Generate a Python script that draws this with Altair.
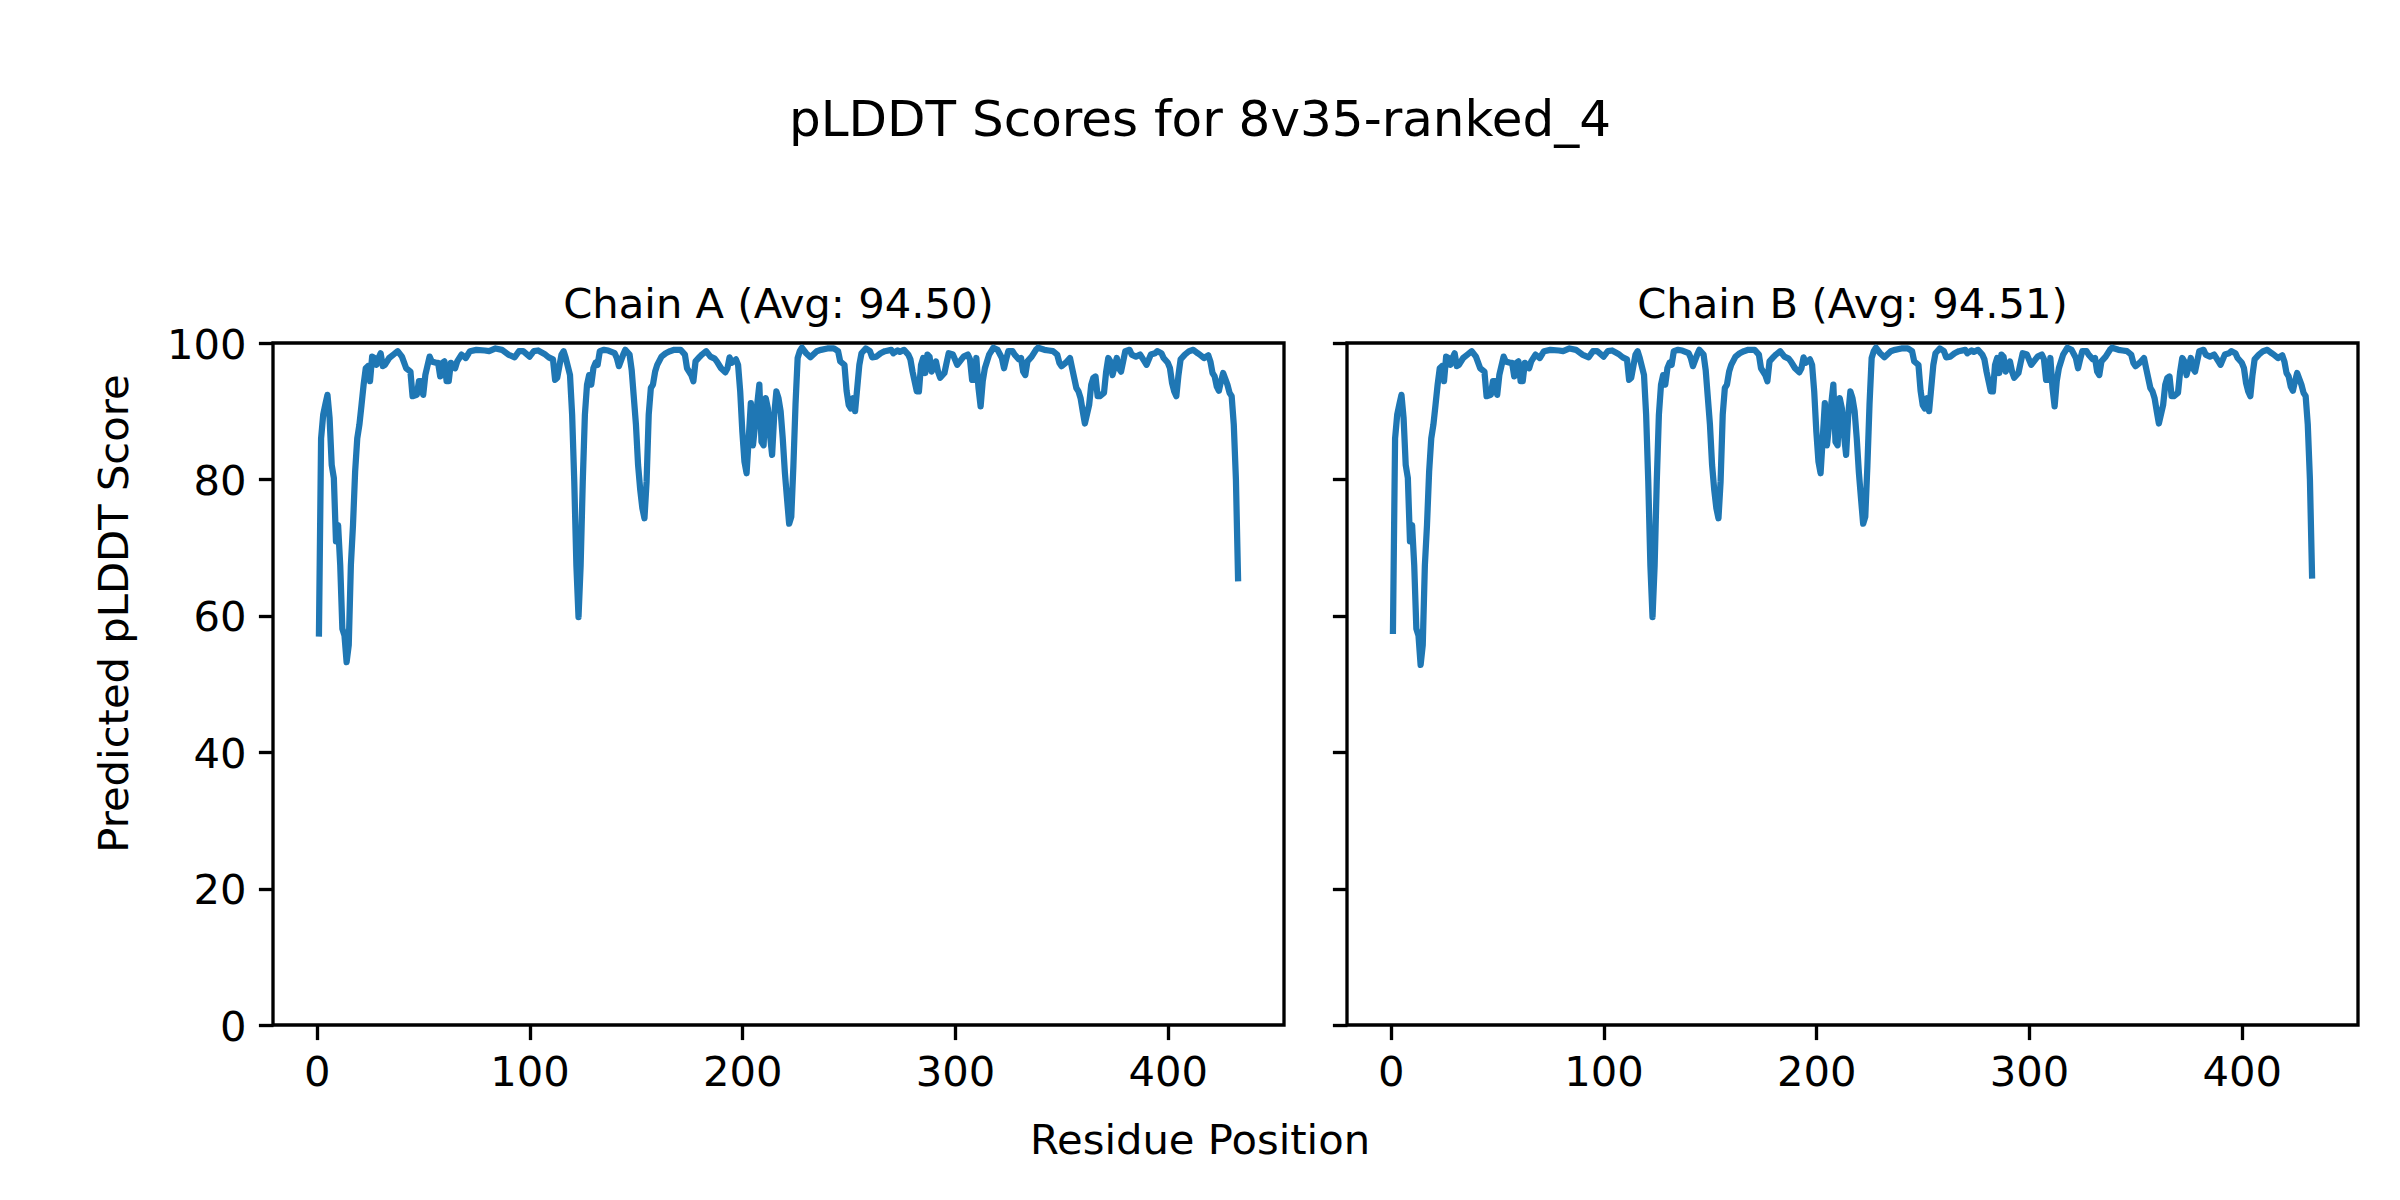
import altair as alt
import pandas as pd

TITLE = "pLDDT Scores for 8v35-ranked_4"
TITLE_A = "Chain A (Avg: 94.50)"
TITLE_B = "Chain B (Avg: 94.51)"
X_LABEL = "Residue Position"
Y_LABEL = "Predicted pLDDT Score"
X_TICKS = [0, 100, 200, 300, 400]
Y_TICKS = [0, 20, 40, 60, 80, 100]

RESIDUES = [
    1, 2, 3, 4, 5, 6, 7, 8, 9, 10,
    11, 12, 13, 14, 15, 16, 17, 18, 19, 20,
    21, 22, 23, 24, 25, 26, 27, 28, 29, 30,
    31, 32, 34, 36, 38, 40, 42, 44, 45, 47,
    48, 49, 50, 51, 53, 54, 56, 57, 58, 59,
    60, 61, 62, 63, 65, 66, 68, 70, 72, 75,
    79, 81, 84, 87, 90, 93, 95, 97, 100, 102,
    104, 107, 109, 111, 112, 113, 115, 116, 117, 119,
    120, 121, 122, 123, 124, 125, 126, 127, 128, 129,
    130, 131, 132, 133, 135, 137, 140, 141, 142, 144,
    145, 147, 148, 149, 150, 151, 152, 153, 154, 155,
    156, 157, 158, 159, 160, 162, 164, 166, 168, 171,
    173, 174, 176, 177, 178, 180, 181, 183, 185, 187,
    188, 190, 192, 193, 194, 195, 197, 198, 199, 200,
    201, 202, 203, 204, 205, 206, 207, 208, 209, 210,
    211, 212, 213, 214, 215, 216, 217, 218, 219, 220,
    221, 222, 223, 224, 225, 226, 227, 228, 230, 232,
    235, 237, 240, 243, 245, 246, 248, 249, 250, 251,
    252, 253, 254, 255, 256, 258, 260, 261, 263, 265,
    267, 270, 271, 273, 274, 276, 278, 279, 280, 282,
    283, 284, 285, 286, 287, 288, 289, 291, 292, 293,
    295, 296, 297, 299, 301, 303, 304, 306, 307, 308,
    309, 310, 311, 312, 313, 314, 316, 318, 320, 322,
    323, 324, 325, 327, 328, 330, 331, 332, 333, 334,
    336, 338, 339, 342, 344, 346, 348, 349, 350, 352,
    354, 355, 357, 358, 359, 360, 361, 363, 364, 365,
    366, 367, 368, 370, 371, 372, 373, 374, 376, 377,
    378, 379, 380, 382, 383, 385, 387, 389, 390, 392,
    394, 395, 397, 398, 400, 401, 402, 403, 404, 405,
    406, 408, 410, 412, 414, 415, 417, 419, 420, 421,
    422, 423, 424, 425, 426, 428, 429, 430, 431, 432,
    433,
]

CHAIN_A = [
    57.4, 86.0, 89.5, 91.0, 92.4, 89.0, 82.1, 80.2, 70.9, 73.3,
    67.4, 58.1, 57.1, 53.2, 55.7, 67.4, 73.3, 81.1, 86.0, 88.0,
    90.9, 93.9, 96.3, 96.6, 94.4, 98.0, 97.8, 96.8, 97.8, 98.5,
    96.6, 96.8, 97.8, 98.3, 98.8, 98.0, 96.3, 95.8, 92.2, 92.4,
    94.4, 94.4, 92.4, 95.3, 98.0, 97.3, 97.1, 97.1, 95.1, 97.1,
    97.3, 94.4, 94.4, 97.1, 96.3, 97.3, 98.3, 97.8, 98.8, 99.0,
    98.9, 98.8, 99.2, 99.0, 98.3, 97.9, 98.8, 98.8, 98.0, 98.8,
    98.9, 98.4, 97.9, 97.6, 94.6, 94.9, 98.3, 98.8, 97.8, 95.3,
    89.5, 79.7, 67.4, 59.8, 67.4, 79.7, 89.5, 93.9, 95.3, 93.9,
    96.3, 97.1, 96.8, 98.8, 99.0, 98.9, 98.5, 97.8, 96.6, 98.3,
    99.0, 98.3, 96.0, 92.0, 88.0, 82.1, 78.5, 75.8, 74.3, 79.7,
    89.5, 93.4, 93.9, 95.8, 96.8, 98.0, 98.5, 98.8, 99.0, 99.0,
    98.3, 96.3, 95.3, 94.4, 97.3, 98.0, 98.3, 98.8, 98.0, 97.7,
    97.3, 96.3, 95.7, 96.3, 97.9, 97.1, 97.6, 96.8, 92.9, 87.0,
    82.6, 80.9, 86.0, 91.2, 85.0, 88.0, 91.0, 93.9, 85.5, 85.0,
    91.9, 90.4, 86.5, 83.6, 89.5, 92.9, 91.9, 90.0, 86.0, 81.0,
    77.2, 73.5, 74.5, 82.0, 91.0, 97.8, 98.8, 99.3, 98.5, 97.9,
    98.8, 99.0, 99.2, 99.2, 98.8, 97.3, 96.8, 93.0, 90.9, 90.4,
    91.9, 90.0, 93.4, 96.8, 98.5, 99.2, 98.8, 97.9, 98.0, 98.5,
    98.8, 99.0, 98.5, 98.9, 98.7, 99.0, 98.3, 97.6, 95.8, 92.9,
    92.9, 96.8, 97.8, 95.6, 98.3, 98.0, 95.8, 97.3, 95.8, 94.9,
    95.6, 97.1, 98.5, 98.3, 96.8, 97.6, 98.0, 98.3, 97.6, 94.6,
    94.6, 97.8, 93.4, 90.7, 94.4, 96.3, 98.3, 99.3, 99.0, 97.8,
    96.3, 97.6, 98.8, 98.8, 98.3, 97.6, 97.8, 95.8, 95.3, 97.3,
    98.0, 99.0, 99.3, 99.0, 98.9, 98.8, 98.3, 97.1, 96.6, 97.1,
    97.8, 96.3, 93.4, 92.9, 91.9, 90.0, 88.2, 90.9, 93.9, 94.9,
    95.1, 92.2, 92.2, 92.7, 95.8, 97.8, 97.3, 95.3, 97.8, 96.3,
    95.8, 97.3, 98.8, 99.0, 98.3, 98.0, 98.3, 97.3, 96.8, 98.3,
    98.5, 98.8, 98.5, 97.8, 97.1, 96.3, 94.1, 92.9, 92.2, 95.3,
    97.6, 98.3, 98.8, 99.0, 98.5, 98.3, 97.8, 98.2, 97.3, 95.6,
    95.1, 93.6, 93.0, 94.4, 95.6, 93.9, 92.7, 92.2, 88.0, 80.0,
    65.5,
]

CHAIN_B = [
    57.8, 86.0, 89.5, 91.0, 92.4, 89.0, 82.1, 80.2, 70.9, 73.3,
    67.4, 58.1, 57.1, 52.8, 55.7, 67.4, 73.3, 81.1, 86.0, 88.0,
    90.9, 93.9, 96.3, 96.6, 94.4, 98.0, 97.8, 96.8, 97.8, 98.5,
    96.6, 96.8, 97.8, 98.3, 98.8, 98.0, 96.3, 95.8, 92.2, 92.4,
    94.4, 94.4, 92.4, 95.3, 98.0, 97.3, 97.1, 97.1, 95.1, 97.1,
    97.3, 94.4, 94.4, 97.1, 96.3, 97.3, 98.3, 97.8, 98.8, 99.0,
    98.9, 98.8, 99.2, 99.0, 98.3, 97.9, 98.8, 98.8, 98.0, 98.8,
    98.9, 98.4, 97.9, 97.6, 94.6, 94.9, 98.3, 98.8, 97.8, 95.3,
    89.5, 79.7, 67.4, 59.8, 67.4, 79.7, 89.5, 93.9, 95.3, 93.9,
    96.3, 97.1, 96.8, 98.8, 99.0, 98.9, 98.5, 97.8, 96.6, 98.3,
    99.0, 98.3, 96.0, 92.0, 88.0, 82.1, 78.5, 75.8, 74.3, 79.7,
    89.5, 93.4, 93.9, 95.8, 96.8, 98.0, 98.5, 98.8, 99.0, 99.0,
    98.3, 96.3, 95.3, 94.4, 97.3, 98.0, 98.3, 98.8, 98.0, 97.7,
    97.3, 96.3, 95.7, 96.3, 97.9, 97.1, 97.6, 96.8, 92.9, 87.0,
    82.6, 80.9, 86.0, 91.2, 85.0, 88.0, 91.0, 93.9, 85.5, 85.0,
    91.9, 90.4, 86.5, 83.6, 89.5, 92.9, 91.9, 90.0, 86.0, 81.0,
    77.2, 73.5, 74.5, 82.0, 91.0, 97.8, 98.8, 99.3, 98.5, 97.9,
    98.8, 99.0, 99.2, 99.2, 98.8, 97.3, 96.8, 93.0, 90.9, 90.4,
    91.9, 90.0, 93.4, 96.8, 98.5, 99.2, 98.8, 97.9, 98.0, 98.5,
    98.8, 99.0, 98.5, 98.9, 98.7, 99.0, 98.3, 97.6, 95.8, 92.9,
    92.9, 96.8, 97.8, 95.6, 98.3, 98.0, 95.8, 97.3, 95.8, 94.9,
    95.6, 97.1, 98.5, 98.3, 96.8, 97.6, 98.0, 98.3, 97.6, 94.6,
    94.6, 97.8, 93.4, 90.7, 94.4, 96.3, 98.3, 99.3, 99.0, 97.8,
    96.3, 97.6, 98.8, 98.8, 98.3, 97.6, 97.8, 95.8, 95.3, 97.3,
    98.0, 99.0, 99.3, 99.0, 98.9, 98.8, 98.3, 97.1, 96.6, 97.1,
    97.8, 96.3, 93.4, 92.9, 91.9, 90.0, 88.2, 90.9, 93.9, 94.9,
    95.1, 92.2, 92.2, 92.7, 95.8, 97.8, 97.3, 95.3, 97.8, 96.3,
    95.8, 97.3, 98.8, 99.0, 98.3, 98.0, 98.3, 97.3, 96.8, 98.3,
    98.5, 98.8, 98.5, 97.8, 97.1, 96.3, 94.1, 92.9, 92.2, 95.3,
    97.6, 98.3, 98.8, 99.0, 98.5, 98.3, 97.8, 98.2, 97.3, 95.6,
    95.1, 93.6, 93.0, 94.4, 95.6, 93.9, 92.7, 92.2, 88.0, 80.0,
    65.9,
]

df = pd.DataFrame({"residue": RESIDUES, "chain_a": CHAIN_A, "chain_b": CHAIN_B})

N = max(RESIDUES)
X_DOMAIN = [1 - 0.05 * (N - 1), N + 0.05 * (N - 1)]

FONT = "DejaVu Sans"
LINE_COLOR = "#1f77b4"
W, H = 1011, 682


def panel(field, title, left):
    x = alt.X(
        "residue:Q",
        scale=alt.Scale(domain=X_DOMAIN, nice=False, zero=False),
        axis=alt.Axis(values=X_TICKS, title=None),
    )
    if left:
        yaxis = alt.Axis(
            values=Y_TICKS,
            title=Y_LABEL,
            titleAngle=270,
            titleX=-146,
            titleY=270,
            titleAlign="center",
            titleBaseline="alphabetic",
            titleFontSize=41.7,
            titleFont=FONT,
            titleFontWeight="normal",
            titleColor="black",
        )
    else:
        yaxis = alt.Axis(values=Y_TICKS, labels=False, title=None)
    y = alt.Y(f"{field}:Q", scale=alt.Scale(domain=[0, 100], nice=False), axis=yaxis)
    return (
        alt.Chart(df)
        .mark_line(color=LINE_COLOR, strokeWidth=6.25, strokeJoin="round", strokeCap="square")
        .encode(x=x, y=y)
        .properties(
            width=W,
            height=H,
            title=alt.TitleParams(
                text=title,
                fontSize=41.7,
                font=FONT,
                fontWeight="normal",
                color="black",
                anchor="middle",
                frame="group",
                offset=15,
                dy=16.3 if left else 0,
            ),
        )
    )


left = panel("chain_a", TITLE_A, True)
right = panel("chain_b", TITLE_B, False)

inner = alt.hconcat(
    left,
    right,
    spacing=43,
    title=alt.TitleParams(
        text=X_LABEL,
        orient="bottom",
        anchor="middle",
        fontSize=41.7,
        font=FONT,
        fontWeight="normal",
        color="black",
        offset=26,
        dx=-26,
    ),
)

chart = (
    alt.vconcat(
        inner,
        title=alt.TitleParams(
            text=TITLE,
            anchor="middle",
            fontSize=50,
            font=FONT,
            fontWeight="normal",
            color="black",
            offset=137,
            dx=-26,
        ),
    )
    .properties(padding={"left": 84, "top": 87, "right": 10, "bottom": 10}, background="white")
    .configure_view(stroke="black", strokeWidth=3.33)
    .configure_axis(
        labelFont=FONT,
        labelFontSize=41.7,
        labelColor="black",
        tickColor="black",
        tickWidth=3.33,
        tickSize=14.6,
        labelPadding=12.4,
        domain=False,
        grid=False,
        labelFlush=False,
        labelOverlap=False,
        titleFont=FONT,
        titleColor="black",
        titleFontWeight="normal",
    )
    .configure_axisY(labelBaseline="alphabetic", labelOffset=15)
)

chart.save("out.html", embed_options={"renderer": "svg", "actions": False})
